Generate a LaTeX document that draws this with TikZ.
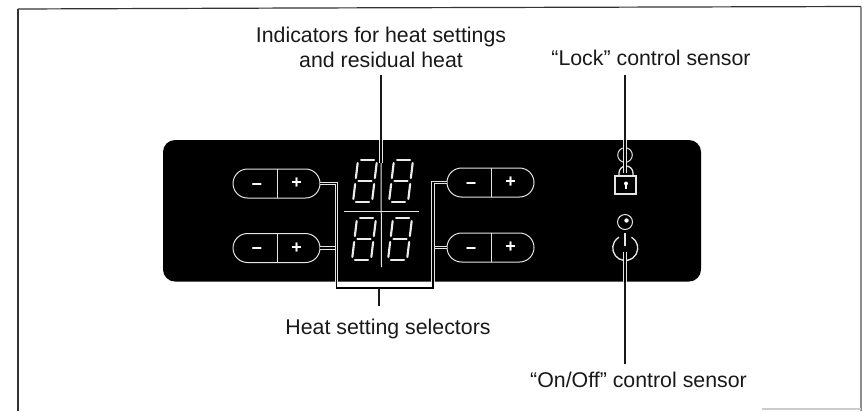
\documentclass[tikz,border=0pt]{standalone}
\usepackage{fontspec}
\setmainfont{Liberation Sans}
\tikzset{
 panel/.style={fill=black,draw=none,rounded corners=9pt},
 lab/.style={font=\fontsize{16pt}{18.75pt}\selectfont,align=center,text=black!90,inner sep=0pt},
 sym/.style={font=\bfseries\fontsize{13.5pt}{13.5pt}\selectfont,text=white,inner sep=0pt},
 wl/.style={draw=white!90!black,line width=0.75pt},
 seg/.style={draw=white!92!black,line width=1.6pt,line cap=round},
 halo/.style={draw=white!90!black,line width=0.8pt,double=black,double distance=0.8pt},
 ink/.style={draw=black,line width=0.9pt},
 lead/.style={draw=black!90,line width=1pt},
 frameline/.style={draw=black!80,line width=0.9pt}
}
\newcommand{\btn}[3]{% x y name: x=left, y=centre
 \draw[wl,rounded corners=10.9pt] (#1,#2-14.5) rectangle (#1+87,#2+14.5);
 \draw[wl] (#1+44,#2-14.5) -- (#1+44,#2+14.5);
 \node[sym] (#3m) at (#1+24,#2+3.5) {\textminus};
 \node[sym] (#3p) at (#1+63.5,#2) {+};
 \coordinate (#3l) at (#1,#2);
 \coordinate (#3r) at (#1+87,#2);
}
\newcommand{\digit}[2]{% digit centre
 \begin{scope}[shift={(#1,#2)},xslant=0.12]
 \draw[seg] (-6.5,-21) -- (6.5,-21);
 \draw[seg] (-6.5,0) -- (6.5,0);
 \draw[seg] (-6.5,21) -- (6.5,21);
 \draw[seg] (-9.5,-18) -- (-9.5,-3);
 \draw[seg] (9.5,-18) -- (9.5,-3);
 \draw[seg] (-9.5,3) -- (-9.5,18);
 \draw[seg] (9.5,3) -- (9.5,18);
 \end{scope}
}
\begin{document}
\begin{tikzpicture}[x=0.75pt,y=-0.75pt]
\useasboundingbox (0,0) rectangle (862,411);
\draw[frameline] (18,9) -- (300,8) -- (861,6.5);
\draw[frameline] (18,9) -- (18,411);
\draw[draw=black!45,line width=0.8pt] (861,6.5) -- (861,411);
\draw[draw=black!20,line width=0.8pt] (762,409) -- (861,409);
\fill[panel] (163,140) rectangle (701,281.5);
\btn{233}{183.5}{a}
\btn{233}{248}{b}
\btn{447}{182.5}{c}
\btn{447}{247.5}{d}
\digit{365}{181}\digit{401}{181}
\digit{364}{239}\digit{400}{239}
\draw[wl] (344,211) -- (419,211);
% labels
\node[lab] (t1) at (381,47) {Indicators for heat settings\\and residual heat};
\node[lab] (t2) at (651,58) {“Lock” control sensor};
\node[lab] (t3) at (388,329) {Heat setting selectors};
\node[lab] (t4) at (638.5,380) {“On/Off” control sensor};
% indicator leader
\coordinate (ia) at (381,75);
\coordinate (ib) at (381,140);
\coordinate (ic) at (381,163);
\coordinate (id) at (381.5,267);
\draw[wl] (ic) -- (id);
\draw[lead] (ia) -- (ib);
\draw[halo] (ib) -- (ic);
% brackets
\coordinate (kl) at (336.5,288);
\coordinate (kr) at (433,288);
\coordinate (kt) at (336.5,281.5);
\coordinate (ku) at (433,281.5);
\coordinate (ks) at (379,288);
\coordinate (ke) at (379,306);
\draw[halo] (br) -- (kl |- br);
\draw[halo] (dl) -- (kr |- dl);
\draw[halo] (ar) -- (kl |- ar) -- (kt);
\draw[halo] (cl) -- (kr |- cl) -- (ku);
\draw[ink] (kt) -- (kl) -- (kr) -- (ku);
\draw[lead] (ks) -- (ke);
% lock sensor
\coordinate (la) at (625,75);
\coordinate (lb) at (625,140);
\coordinate (lc) at (625,173);
\draw[wl] (625,155) circle (7.3);
\draw[wl,line width=1pt] (619,176) -- (619,173) arc (180:360:7) -- (633,176);
\draw[lead] (la) -- (lb);
\draw[halo] (lb) -- (lc);
\draw[wl,line width=1.2pt,fill=black] (615,176) rectangle (636,194);
\fill[white] (626,183.5) circle (2);
\fill[white] (625.2,183.5) rectangle (626.8,188.5);
% power sensor
\draw[wl] (625,222) circle (7.5);
\fill[white] (626.5,220.5) circle (2.2);
\draw[wl,line width=1pt] (631.5,237.2) arc (-60:240:12.5);
\draw[wl,line width=1.1pt] (625,233) -- (625,246);
\coordinate (pa) at (625,252);
\coordinate (pb) at (625,281.5);
\coordinate (pc) at (625,364);
\draw[halo] (pa) -- (pb);
\draw[lead] (pb) -- (pc);
\end{tikzpicture}
\end{document}
